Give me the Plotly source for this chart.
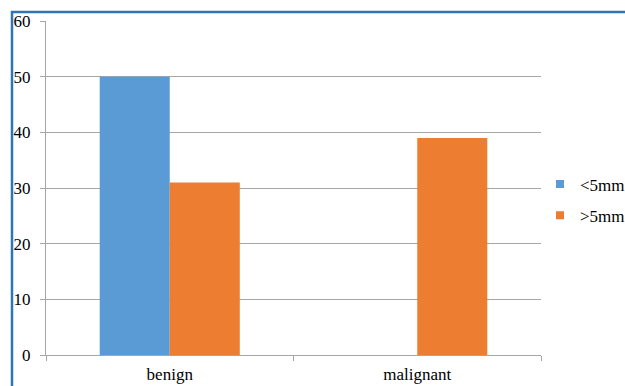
import plotly.graph_objects as go

# Lesion type vs. size group
categories = ["benign", "malignant"]
series_names = ["<5mm", ">5mm"]
under_5mm = [50, 0]
over_5mm = [31, 39]
colors = ["#5B9BD5", "#ED7D31"]
y_ticks = [0, 10, 20, 30, 40, 50, 60]

W, H = 625, 386
L, R, T, B = 46, 84, 21, 31
pw, ph = W - L - R, H - T - B

fig = go.Figure()
for name, vals, col in zip(series_names, [under_5mm, over_5mm], colors):
    fig.add_trace(go.Bar(x=categories, y=vals, name=name, marker_color=col,
                         marker_line_width=0, showlegend=False))
    # square legend swatch
    fig.add_trace(go.Scatter(x=[None], y=[None], mode="markers", name=name,
                             legendgroup=name,
                             marker=dict(symbol="square", size=8, color=col)))

# blue frame around the chart area (left and top edges visible)
fx0 = (12 - L) / pw
fy1 = (H - B - 12) / ph
fig.add_shape(type="rect", xref="paper", yref="paper",
              x0=fx0, x1=2, y0=-1, y1=fy1,
              line=dict(color="#2E75B6", width=2.5), fillcolor="rgba(0,0,0,0)",
              layer="above")

font = dict(family="Liberation Serif", size=17, color="#000000")

fig.update_layout(
    width=W, height=H,
    margin=dict(l=L, r=R, t=T, b=B, pad=0, autoexpand=False),
    paper_bgcolor="white", plot_bgcolor="white",
    barmode="group", bargap=0.434, bargroupgap=0,
    font=font,
    showlegend=True,
    legend=dict(x=(540 - L) / pw, xanchor="left",
                y=(H - B - 200) / ph, yanchor="middle",
                font=font, bgcolor="rgba(0,0,0,0)", tracegroupgap=6,
                itemwidth=30),
    xaxis=dict(showline=True, linecolor="#A6A6A6", linewidth=1,
               ticks="outside", ticklen=5, tickcolor="#A6A6A6",
               tickson="boundaries", showgrid=False, tickfont=font,
               ticklabelstandoff=4),
    yaxis=dict(range=[0, 60], tickvals=y_ticks, showline=True,
               linecolor="#A6A6A6", linewidth=1, ticks="outside", ticklen=5,
               tickcolor="#A6A6A6", showgrid=True, gridcolor="#A6A6A6",
               gridwidth=1, zeroline=False, tickfont=font,
               ticklabelstandoff=6),
)

fig.write_html("out.html")
